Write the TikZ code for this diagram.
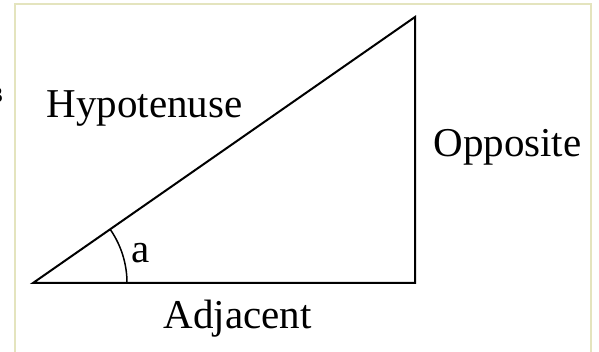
\documentclass[tikz,border=0pt]{standalone}
\usepackage{fontspec}
\setmainfont{Liberation Serif}
\begin{document}
\begin{tikzpicture}[x=1pt,y=-1pt,
  frameline/.style={draw=framegreen,line width=2.5pt},
  side/.style={draw=black,line width=2pt,line join=miter},
  lbl/.style={font=\fontsize{41}{49}\selectfont,inner sep=0pt,anchor=base}]
\definecolor{framegreen}{RGB}{228,228,190}
\useasboundingbox (0,0) rectangle (599,352);
\fill[white] (0,0) rectangle (599,352);
% frame (open at bottom)
\draw[frameline] (15,352) -- (15,4) -- (591,4) -- (591,352);
% fragment at left edge
\node[inner sep=0pt,anchor=base east,font=\fontsize{22}{26}\selectfont] (frag) at (3,103) {3};
% triangle
\coordinate (A) at (33,283);
\coordinate (B) at (415,283);
\coordinate (C) at (415,17);
\draw[side] (A) -- (B) -- (C) -- cycle;
% angle arc
\draw[black,line width=1.5pt] ([xshift=94pt]A) arc[start angle=0,end angle=34.85,radius=94pt];
% labels
\node[lbl] (hyp) at (144.5,118) {Hypotenuse};
\node[lbl] (opp) at (507.5,157) {Opposite};
\node[lbl] (adj) at (237.5,328) {Adjacent};
\node[lbl] (ang) at (141,263) {a};
\end{tikzpicture}
\end{document}
